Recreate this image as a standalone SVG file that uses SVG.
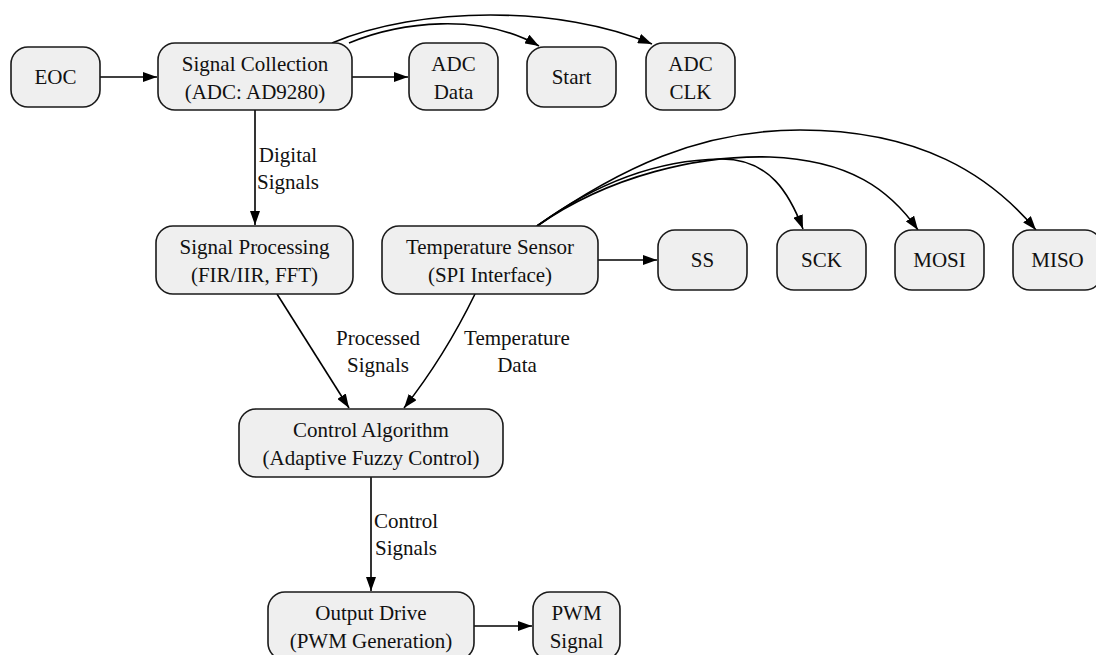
<svg xmlns="http://www.w3.org/2000/svg" width="1096" height="655" viewBox="0 0 1096 655">
<defs>
<style>
.n rect{fill:#efefef;stroke:#1a1a1a;stroke-width:1.6}
.e path,.e line{fill:none;stroke:#000;stroke-width:1.6}
</style>
<marker id="a" viewBox="0 0 14 10" refX="14" refY="5" markerWidth="14" markerHeight="10" markerUnits="userSpaceOnUse" orient="auto">
<path d="M0,0 L14,5 L0,10 z" fill="#000"/>
</marker>
</defs>
<rect width="1096" height="655" fill="#fff"/>
<g id="connectors" class="e">
<line x1="100" y1="77" x2="157" y2="77" marker-end="url(#a)"/>
<line x1="352" y1="77" x2="408" y2="77" marker-end="url(#a)"/>
<path d="M349,43 C400,22 480,12 539,46" marker-end="url(#a)"/>
<path d="M332,43 C420,6 560,5 652,44" marker-end="url(#a)"/>
<line x1="255" y1="110" x2="255" y2="225" marker-end="url(#a)"/>
<line x1="598" y1="260" x2="657" y2="260" marker-end="url(#a)"/>
<path d="M537,226 C600,180 660,160 720,159 C770,158 790,195 803,229" marker-end="url(#a)"/>
<path d="M537,226 C610,175 700,155 770,157 C850,160 890,190 918,230" marker-end="url(#a)"/>
<path d="M537,226 C620,168 700,130 800,130 C920,130 990,175 1036,230" marker-end="url(#a)"/>
<line x1="277" y1="294" x2="349" y2="408" marker-end="url(#a)"/>
<path d="M475,294 C455,335 430,375 404,408" marker-end="url(#a)"/>
<line x1="371" y1="477" x2="371" y2="591" marker-end="url(#a)"/>
<line x1="474" y1="626" x2="532" y2="626" marker-end="url(#a)"/>
</g>
<g font-family="Liberation Serif" font-size="21" fill="#111" text-anchor="middle">
<g id="labels">
<text x="288" y="162">Digital</text><text x="288" y="189">Signals</text>
<text x="378" y="345">Processed</text><text x="378" y="372">Signals</text>
<text x="517" y="345">Temperature</text><text x="517" y="372">Data</text>
<text x="406" y="528">Control</text><text x="406" y="555">Signals</text>
</g>
<g id="eoc" class="n"><rect x="11" y="47" width="89" height="60" rx="17"/><text x="55.5" y="84">EOC</text></g>
<g id="collect" class="n"><rect x="158" y="43" width="194" height="67" rx="17"/><text x="255" y="71">Signal Collection</text><text x="255" y="99">(ADC: AD9280)</text></g>
<g id="adcdata" class="n"><rect x="409" y="43" width="89" height="67" rx="17"/><text x="453.5" y="71">ADC</text><text x="453.5" y="99">Data</text></g>
<g id="start" class="n"><rect x="527" y="47" width="89" height="60" rx="17"/><text x="571.5" y="84">Start</text></g>
<g id="adcclk" class="n"><rect x="646" y="43" width="89" height="67" rx="17"/><text x="690.5" y="71">ADC</text><text x="690.5" y="99">CLK</text></g>
<g id="proc" class="n"><rect x="156" y="226" width="197" height="68" rx="17"/><text x="254.5" y="254">Signal Processing</text><text x="254.5" y="282">(FIR/IIR, FFT)</text></g>
<g id="temp" class="n"><rect x="382" y="226" width="216" height="68" rx="17"/><text x="490" y="254">Temperature Sensor</text><text x="490" y="282">(SPI Interface)</text></g>
<g id="ss" class="n"><rect x="658" y="230" width="89" height="60" rx="17"/><text x="702.5" y="267">SS</text></g>
<g id="sck" class="n"><rect x="777" y="230" width="89" height="60" rx="17"/><text x="821.5" y="267">SCK</text></g>
<g id="mosi" class="n"><rect x="895" y="230" width="89" height="60" rx="17"/><text x="939.5" y="267">MOSI</text></g>
<g id="miso" class="n"><rect x="1013" y="230" width="89" height="60" rx="17"/><text x="1057.5" y="267">MISO</text></g>
<g id="ctrl" class="n"><rect x="239" y="409" width="264" height="68" rx="17"/><text x="371" y="437">Control Algorithm</text><text x="371" y="465">(Adaptive Fuzzy Control)</text></g>
<g id="out" class="n"><rect x="268" y="592" width="206" height="68" rx="17"/><text x="371" y="620">Output Drive</text><text x="371" y="648">(PWM Generation)</text></g>
<g id="pwm" class="n"><rect x="533" y="592" width="87" height="68" rx="17"/><text x="576.5" y="620">PWM</text><text x="576.5" y="648">Signal</text></g>
</g>
</svg>
